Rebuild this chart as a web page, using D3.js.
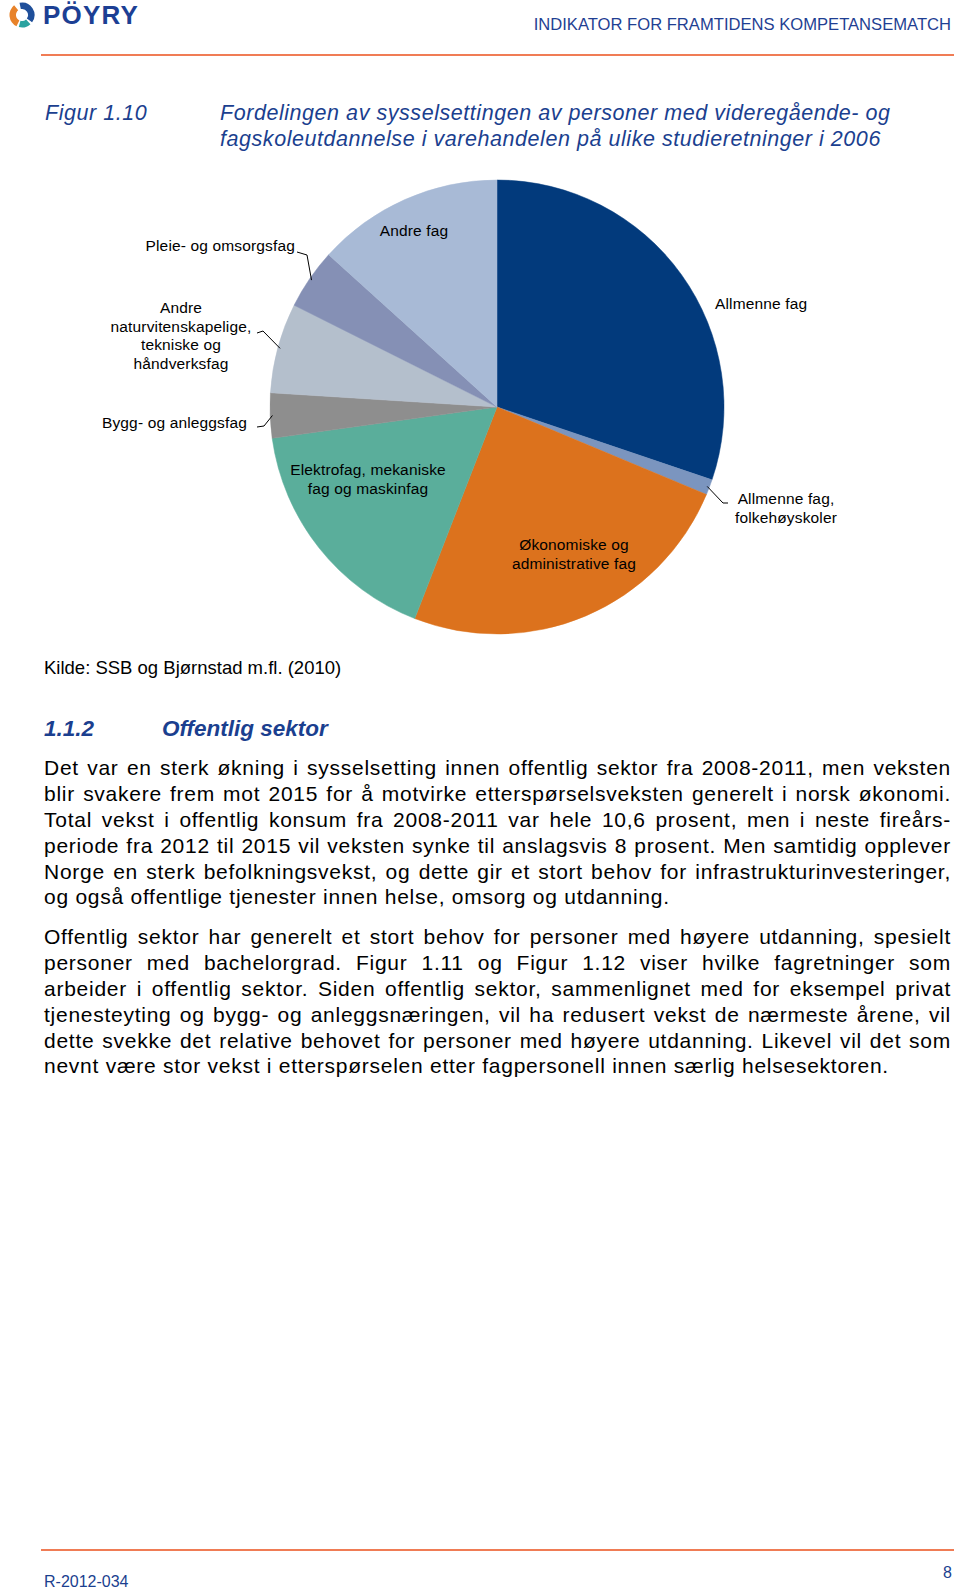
<!doctype html>
<html>
  <head>
    <meta content="text/html;charset=utf-8" http-equiv="Content-Type">
    <script src="https://d3js.org/d3.v7.min.js"></script>
    <style>
      body { margin: 0; background: #fff; }
      #page { position: relative; width: 960px; height: 1594px; overflow: hidden; }
      #page svg { position: absolute; left: 0; top: 0; }
      .body-text { position: absolute; left: 44px; width: 907px; font-family: "Liberation Sans", Arial, sans-serif; font-size: 21px; letter-spacing: 0.74px; color: #000; }
      .body-text div { height: 25.9px; line-height: 25.9px; white-space: nowrap; text-align: justify; text-align-last: justify; }
      .body-text div.last { text-align-last: left; }
    </style>
  </head>
  <body>
    <div id="page"></div>
    <script>
    // pie data, clockwise from 12 o'clock (percent)
    var categories = [
      "Allmenne fag",
      "Allmenne fag, folkehøyskoler",
      "Økonomiske og administrative fag",
      "Elektrofag, mekaniske fag og maskinfag",
      "Bygg- og anleggsfag",
      "Andre naturvitenskapelige, tekniske og håndverksfag",
      "Pleie- og omsorgsfag",
      "Andre fag"
    ];
    var shares = [30.2, 1.1, 24.6, 16.9, 3.2, 6.4, 4.3, 13.3];
    var colors = ["#023a7c", "#7b95bf", "#dc721d", "#5aae9b", "#8e8e8e", "#b4bfcc", "#8590b5", "#a8bad6"];

    var para1 = [
      "Det var en sterk økning i sysselsetting innen offentlig sektor fra 2008-2011, men veksten",
      "blir svakere frem mot 2015 for å motvirke etterspørselsveksten generelt i norsk økonomi.",
      "Total vekst i offentlig konsum fra 2008-2011 var hele 10,6 prosent, men i neste fireårs-",
      "periode fra 2012 til 2015 vil veksten synke til anslagsvis 8 prosent. Men samtidig opplever",
      "Norge en sterk befolkningsvekst, og dette gir et stort behov for infrastrukturinvesteringer,",
      "og også offentlige tjenester innen helse, omsorg og utdanning."
    ];
    var para2 = [
      "Offentlig sektor har generelt et stort behov for personer med høyere utdanning, spesielt",
      "personer med bachelorgrad. Figur 1.11 og Figur 1.12 viser hvilke fagretninger som",
      "arbeider i offentlig sektor. Siden offentlig sektor, sammenlignet med for eksempel privat",
      "tjenesteyting og bygg- og anleggsnæringen, vil ha redusert vekst de nærmeste årene, vil",
      "dette svekke det relative behovet for personer med høyere utdanning. Likevel vil det som",
      "nevnt være stor vekst i etterspørselen etter fagpersonell innen særlig helsesektoren."
    ];

    var width = 960;
    var height = 1594;
    var navy = "#1b3f8f";
    var orangeLine = "#f07c55";
    var font = "'Liberation Sans', Arial, sans-serif";

    var page = d3.select("#page");
    var svg = page.append("svg")
      .attr("width", width)
      .attr("height", height);

    // ---- header
    var logo = svg.append("g").attr("transform", "translate(22,15)");
    logo.append("path")
      .attr("d", d3.arc()({innerRadius: 6, outerRadius: 12.5, startAngle: -0.2, endAngle: 2.2}))
      .attr("fill", "#1f4f9a");
    logo.append("path")
      .attr("d", d3.arc()({innerRadius: 6, outerRadius: 12.5, startAngle: 3.6, endAngle: 5.6}))
      .attr("fill", "#e8832a");
    logo.append("path")
      .attr("d", d3.arc()({innerRadius: 6, outerRadius: 12.5, startAngle: 2.4, endAngle: 3.4}))
      .attr("fill", "#2aa3a0");
    svg.append("text")
      .attr("x", 43).attr("y", 24)
      .attr("font-family", font)
      .attr("font-weight", "bold")
      .attr("font-size", "26px")
      .attr("letter-spacing", "1.2px")
      .attr("fill", "#1c3f94")
      .text("PÖYRY");

    svg.append("text")
      .attr("x", 951).attr("y", 30)
      .attr("text-anchor", "end")
      .attr("font-family", font)
      .attr("font-size", "16.6px")
      .attr("fill", "#1f3f93")
      .text("INDIKATOR FOR FRAMTIDENS KOMPETANSEMATCH");

    svg.append("line")
      .attr("x1", 41).attr("x2", 954)
      .attr("y1", 55).attr("y2", 55)
      .attr("stroke", orangeLine)
      .attr("stroke-width", 2);

    // ---- figure title
    var titleG = svg.append("g")
      .attr("font-family", font)
      .attr("font-style", "italic")
      .attr("font-size", "21.5px")
      .attr("letter-spacing", "0.55px")
      .attr("fill", navy);
    titleG.append("text").attr("x", 45).attr("y", 120).text("Figur 1.10");
    titleG.append("text").attr("x", 220).attr("y", 120)
      .text("Fordelingen av sysselsettingen av personer med videregående- og");
    titleG.append("text").attr("x", 220).attr("y", 146)
      .text("fagskoleutdannelse i varehandelen på ulike studieretninger i 2006");

    // ---- pie
    var cx = 497, cy = 407, r = 227;
    var data = categories.map(function(c, i) { return {name: c, value: shares[i], color: colors[i]}; });
    var pie = d3.pie().sort(null).value(function(d) { return d.value; });
    var arc = d3.arc().innerRadius(0).outerRadius(r);
    var arcs = pie(data);

    var pg = svg.append("g").attr("transform", "translate(" + cx + "," + cy + ")");
    pg.selectAll("path")
      .data(arcs)
      .enter()
      .append("path")
      .attr("d", arc)
      .attr("fill", function(d) { return d.data.color; })
      .attr("stroke", function(d) { return d.data.color; })
      .attr("stroke-width", 0.5);

    // label layout (offsets from pie centre), leader = line from label to slice edge
    var labelLayout = [
      {x: 218, y: -103, anchor: "start", lines: ["Allmenne fag"]},
      {x: 289, y: 92, anchor: "middle", lines: ["Allmenne fag,", "folkehøyskoler"], leader: [[231, 96], [226, 96]]},
      {x: 77, y: 138, anchor: "middle", lines: ["Økonomiske og", "administrative fag"]},
      {x: -129, y: 63, anchor: "middle", lines: ["Elektrofag, mekaniske", "fag og maskinfag"]},
      {x: -250, y: 16, anchor: "end", lines: ["Bygg- og anleggsfag"], leader: [[-240, 20], [-233, 19]]},
      {x: -316, y: -99, anchor: "middle", lines: ["Andre", "naturvitenskapelige,", "tekniske og", "håndverksfag"], leader: [[-240, -74], [-234, -76]]},
      {x: -202, y: -161, anchor: "end", lines: ["Pleie- og omsorgsfag"], leader: [[-200, -155], [-190, -152]]},
      {x: -83, y: -176, anchor: "middle", lines: ["Andre fag"]}
    ];

    var lg = pg.append("g")
      .attr("font-family", font)
      .attr("font-size", "15.5px")
      .attr("letter-spacing", "0.15px")
      .attr("fill", "#000");

    arcs.forEach(function(a, i) {
      var L = labelLayout[i];
      var t = lg.append("text")
        .attr("text-anchor", L.anchor);
      L.lines.forEach(function(s, k) {
        t.append("tspan")
          .attr("x", L.x)
          .attr("y", L.y + k * 18.7 + 5)
          .text(s);
      });
      if (L.leader) {
        var mid = (a.startAngle + a.endAngle) / 2;
        var edge = [Math.sin(mid) * r * 0.99, -Math.cos(mid) * r * 0.99];
        var pts = L.leader.concat([edge]);
        lg.append("path")
          .attr("d", d3.line()(pts))
          .attr("fill", "none")
          .attr("stroke", "#000")
          .attr("stroke-width", 1);
      }
    });

    // ---- source and heading
    svg.append("text")
      .attr("x", 44).attr("y", 674)
      .attr("font-family", font)
      .attr("font-size", "18.5px")
      .attr("fill", "#000")
      .text("Kilde: SSB og Bjørnstad m.fl. (2010)");

    var hg = svg.append("g")
      .attr("font-family", font)
      .attr("font-style", "italic")
      .attr("font-weight", "bold")
      .attr("font-size", "22.5px")
      .attr("fill", navy);
    hg.append("text").attr("x", 44).attr("y", 736).text("1.1.2");
    hg.append("text").attr("x", 162).attr("y", 736).text("Offentlig sektor");

    // ---- body text
    function addPara(lines, top) {
      var p = page.append("div").attr("class", "body-text").style("top", top + "px");
      p.selectAll("div")
        .data(lines)
        .enter()
        .append("div")
        .attr("class", function(d, i) { return i === lines.length - 1 ? "last" : null; })
        .text(function(d) { return d; });
    }
    addPara(para1, 755);
    addPara(para2, 924);

    // ---- footer
    svg.append("line")
      .attr("x1", 41).attr("x2", 954)
      .attr("y1", 1550).attr("y2", 1550)
      .attr("stroke", orangeLine)
      .attr("stroke-width", 2);
    svg.append("text")
      .attr("x", 44).attr("y", 1587)
      .attr("font-family", font)
      .attr("font-size", "16px")
      .attr("fill", navy)
      .text("R-2012-034");
    svg.append("text")
      .attr("x", 952).attr("y", 1578)
      .attr("text-anchor", "end")
      .attr("font-family", font)
      .attr("font-size", "16px")
      .attr("fill", navy)
      .text("8");
    </script>
  </body>
</html>
